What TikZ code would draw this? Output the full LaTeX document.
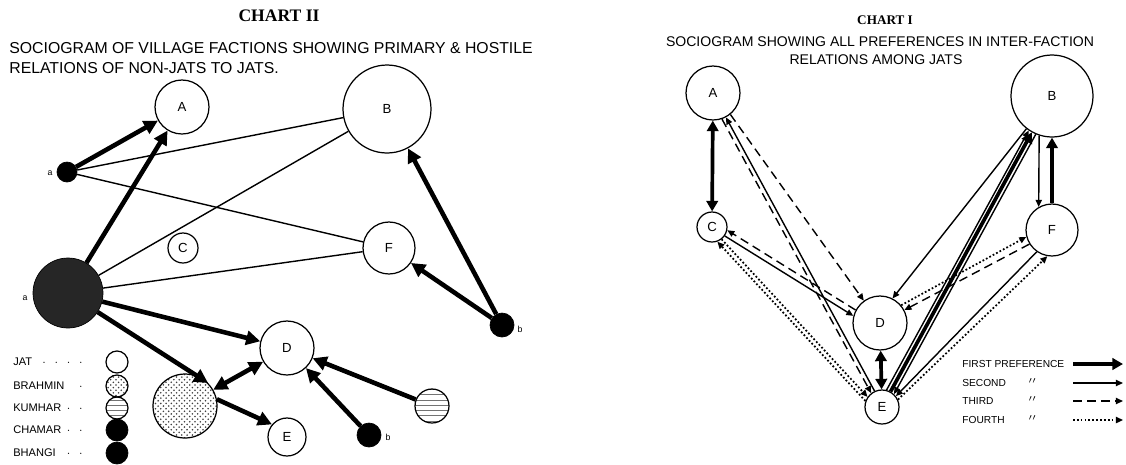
\documentclass[tikz,border=0pt]{standalone}
\usepackage{fontspec}
\setmainfont{Liberation Serif}
\setsansfont{Liberation Sans}
\usetikzlibrary{arrows.meta,patterns}

\begin{document}
\begin{tikzpicture}[x=0.02cm,y=-0.02cm,
  faction/.style={draw,circle,inner sep=0pt,line width=0.7pt,fill=white,font=\sffamily\fontsize{7.5}{8}\selectfont},
  blackdot/.style={draw,circle,inner sep=0pt,fill=black},
  brahmin/.style={draw,circle,inner sep=0pt,line width=0.7pt,pattern=crosshatch dots,pattern color=black!75},
  kumhar/.style={draw,circle,inner sep=0pt,line width=0.7pt,pattern=horizontal lines,pattern color=black!55},
  tag/.style={font=\sffamily\fontsize{5}{5}\selectfont,inner sep=0pt},
  key/.style={anchor=west,inner sep=0pt,font=\sffamily\fontsize{6.3}{7}\selectfont},
  rkey/.style={anchor=west,inner sep=0pt,font=\sffamily\fontsize{5.8}{7}\selectfont},
  strong/.style={line width=2.6pt,-{Triangle[length=8pt,width=8pt]}},
  strongboth/.style={line width=2.6pt,{Triangle[length=8pt,width=8pt]}-{Triangle[length=8pt,width=8pt]}},
  hostile/.style={line width=0.8pt},
  pref1/.style={line width=2.1pt,-{Triangle[length=6pt,width=6.5pt]}},
  pref1both/.style={line width=2.1pt,{Triangle[length=6pt,width=6.5pt]}-{Triangle[length=6pt,width=6.5pt]}},
  pref2/.style={line width=0.8pt,-{Triangle[length=4pt,width=3.5pt]}},
  pref3/.style={line width=0.8pt,dash pattern=on 5pt off 3pt,-{Triangle[length=4pt,width=3.5pt]}},
  pref4/.style={line width=1pt,dash pattern=on 1pt off 1.2pt,-{Triangle[length=4pt,width=3.5pt]}}
]
\useasboundingbox (0,0) rectangle (1126,464);

% left chart: titles
\node[font=\bfseries\fontsize{10}{10}\selectfont] (ttlL) at (279,16) {CHART II};
\node[anchor=west,align=left,inner sep=0pt,font=\sffamily\fontsize{9}{11.3}\selectfont] (subL) at (9,58)
  {SOCIOGRAM OF VILLAGE FACTIONS SHOWING PRIMARY \& HOSTILE\\RELATIONS OF NON-JATS TO JATS.};

% left chart: factions
\node[faction,minimum size=1.08cm] (A) at (182,107) {A};
\node[faction,minimum size=1.76cm] (B) at (387,109) {B};
\node[faction,minimum size=0.6cm] (C) at (183,248) {C};
\node[faction,minimum size=1.04cm] (F) at (389,248) {F};
\node[faction,minimum size=1.08cm] (D) at (287,348) {D};
\node[faction,minimum size=0.76cm] (E) at (287,437) {E};
\node[draw,circle,inner sep=0pt,fill=black!85,minimum size=1.4cm] (ba) at (68,293) {};
\node[blackdot,minimum size=0.4cm] (sa) at (67,172) {};
\node[brahmin,minimum size=1.28cm] (br) at (185,406) {};
\node[kumhar,minimum size=0.68cm] (ku) at (432,406) {};
\node[blackdot,minimum size=0.48cm] (bR) at (502,325) {};
\node[blackdot,minimum size=0.48cm] (bB) at (369,435) {};
\node[tag] (saL) at (50,173) {a};
\node[tag] (baL) at (25,298) {a};
\node[tag] (bRL) at (520,329) {b};
\node[tag] (bBL) at (388,437) {b};

\draw[strong] (sa) -- (A);
\draw[strong] (ba) -- (A);
\draw[hostile] (sa) -- (B);
\draw[hostile] (sa) -- (F);
\draw[hostile] (ba) -- (B);
\draw[hostile] (ba) -- (F);
\draw[strong] (ba) -- (D);
\draw[strong] (ba) -- (br.45);
\draw[strongboth] (br.30) -- (D.210);
\draw[strong] (br.12) -- (E.140);
\draw[strong] (bB) -- (D);
\draw[strong] (ku) -- (D);
\draw[strong] (bR) -- (B);
\draw[strong] (bR) -- (F);

% left chart: legend
\node[key] (kJat) at (13,362) {\makebox[1.62cm][l]{JAT\leaders\hbox to 7pt{\hss$\cdot$\hss}\hfill}};
\node[key] (kBra) at (13,386) {\makebox[1.62cm][l]{BRAHMIN\leaders\hbox to 7pt{\hss$\cdot$\hss}\hfill}};
\node[key] (kKum) at (13,408) {\makebox[1.62cm][l]{KUMHAR\leaders\hbox to 7pt{\hss$\cdot$\hss}\hfill}};
\node[key] (kCha) at (13,430) {\makebox[1.62cm][l]{CHAMAR\leaders\hbox to 7pt{\hss$\cdot$\hss}\hfill}};
\node[key] (kBha) at (13,453) {\makebox[1.62cm][l]{BHANGI\leaders\hbox to 7pt{\hss$\cdot$\hss}\hfill}};
\node[faction,minimum size=0.44cm] (cJat) at (117,362) {};
\node[brahmin,minimum size=0.44cm] (cBra) at (117,386) {};
\node[kumhar,minimum size=0.44cm] (cKum) at (117,408) {};
\node[blackdot,minimum size=0.44cm] (cCha) at (117,430) {};
\node[blackdot,minimum size=0.44cm] (cBha) at (117,453) {};

% right chart: titles
\node[font=\bfseries\fontsize{7.5}{8}\selectfont] (ttlR) at (885,20) {CHART I};
\node[inner sep=0pt,font=\sffamily\fontsize{8}{8}\selectfont] (subR1) at (880,42) {SOCIOGRAM SHOWING ALL PREFERENCES IN INTER-FACTION};
\node[inner sep=0pt,font=\sffamily\fontsize{8}{8}\selectfont] (subR2) at (876,60) {RELATIONS AMONG JATS};

% right chart: factions
\node[faction,minimum size=1.08cm] (rA) at (713,93) {A};
\node[faction,minimum size=0.6cm] (rC) at (712,227) {C};
\node[faction,minimum size=1.08cm] (rD) at (880,323) {D};
\node[faction,minimum size=1.64cm] (rB) at (1052,96) {B};
\node[faction,minimum size=1.04cm] (rF) at (1052,230) {F};
\node[faction,minimum size=0.68cm] (rE) at (882,407) {E};

\draw[pref1both] (rA) -- (rC);
\draw[pref3] (rA.-71) -- (rE.128);
\draw[pref2] (rE.115) -- (rA.-62);
\draw[pref3] (rA.-51) -- (rD.126);
\draw[pref2] (rC.-35) -- (rD.165);
\draw[pref3] (rD.152) -- (rC.-12);
\draw[pref4] (rE.160) -- (rC.-70);
\draw[pref4] (rC.-52) -- (rE.145);
\draw[pref2] (rB.-128) -- (rD.63);
\draw[pref1] (rE.61) -- (rB.-119);
\draw[pref2] (rB.-113) -- (rE.47);
\draw[pref2] (rE.75) -- (rB.-124);
\draw[pref2] (rB.-108) -- (rF.120);
\draw[pref1] (rF.90) -- (rB.-90);
\draw[pref4] (rD.40) -- (rF.195);
\draw[pref3] (rF.212) -- (rD.28);
\draw[pref2] (rF.-125) -- (rE.38);
\draw[pref4] (rE.25) -- (rF.-100);
\draw[pref1both] (rD) -- (rE);

% right chart: legend
\node[rkey] (k1) at (962,364) {FIRST PREFERENCE};
\node[rkey] (k2) at (962,383) {SECOND};
\node[rkey] (k3) at (962,401) {THIRD};
\node[rkey] (k4) at (962,420) {FOURTH};
\node[rkey] (d2) at (1028,383) {$''$};
\node[rkey] (d3) at (1028,401) {$''$};
\node[rkey] (d4) at (1028,420) {$''$};
\coordinate (k1a) at (1073,364); \coordinate (k1b) at (1123,364);
\coordinate (k2a) at (1073,383); \coordinate (k2b) at (1123,383);
\coordinate (k3a) at (1073,401); \coordinate (k3b) at (1123,401);
\coordinate (k4a) at (1073,420); \coordinate (k4b) at (1123,420);
\draw[pref1] (k1a) -- (k1b);
\draw[pref2] (k2a) -- (k2b);
\draw[pref3] (k3a) -- (k3b);
\draw[pref4] (k4a) -- (k4b);
\end{tikzpicture}
\end{document}
